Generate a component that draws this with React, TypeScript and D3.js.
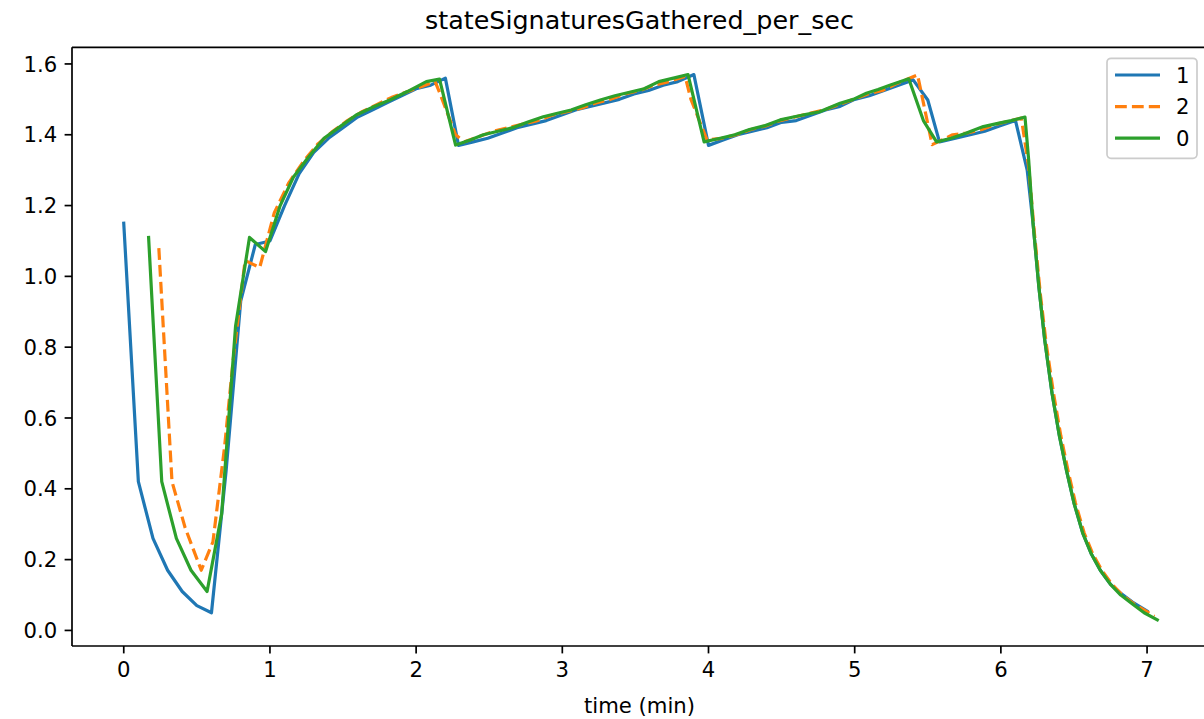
import React from "react";
import * as d3 from "d3";

const TITLE = "stateSignaturesGathered_per_sec";
const X_LABEL = "time (min)";
const X_TICKS = [0, 1, 2, 3, 4, 5, 6, 7];
const Y_TICKS = [0.0, 0.2, 0.4, 0.6, 0.8, 1.0, 1.2, 1.4, 1.6];
const SERIES_NAMES = ["1", "2", "0"];

const t1 = [0.00,0.10,0.20,0.30,0.40,0.50,0.60,0.70,0.80,0.90,1.00,1.10,1.20,1.30,1.40,1.50,1.60,1.70,1.80,1.90,2.00,2.10,2.20,2.29,2.39,2.49,2.59,2.69,2.79,2.89,2.99,3.09,3.19,3.29,3.39,3.49,3.59,3.69,3.79,3.90,4.00,4.10,4.20,4.30,4.40,4.50,4.60,4.70,4.80,4.90,5.00,5.10,5.20,5.30,5.40,5.50,5.58,5.69,5.79,5.89,5.99,6.10,6.18,6.22,6.26,6.30,6.35,6.40,6.45,6.50,6.56,6.62,6.68,6.75,6.82,6.90,7.00];
const v1 = [1.15,0.42,0.26,0.17,0.11,0.07,0.05,0.45,0.93,1.09,1.10,1.20,1.29,1.35,1.39,1.42,1.45,1.47,1.49,1.51,1.53,1.54,1.56,1.37,1.38,1.39,1.405,1.42,1.43,1.44,1.455,1.47,1.48,1.49,1.50,1.515,1.525,1.54,1.55,1.57,1.37,1.385,1.40,1.41,1.42,1.435,1.44,1.455,1.47,1.48,1.50,1.51,1.525,1.54,1.555,1.498,1.38,1.39,1.40,1.41,1.425,1.44,1.30,1.15,0.97,0.82,0.67,0.55,0.45,0.36,0.275,0.215,0.17,0.13,0.105,0.08,0.055];

const t2 = [0.24,0.33,0.42,0.53,0.61,0.69,0.75,0.83,0.93,1.03,1.13,1.23,1.33,1.43,1.53,1.63,1.73,1.83,1.93,2.03,2.13,2.16,2.27,2.33,2.43,2.53,2.63,2.73,2.83,2.93,3.03,3.13,3.23,3.33,3.43,3.53,3.63,3.73,3.84,3.88,3.99,4.09,4.19,4.29,4.39,4.49,4.59,4.69,4.79,4.89,4.99,5.09,5.19,5.29,5.43,5.53,5.67,5.77,5.87,5.97,6.07,6.14,6.19,6.23,6.27,6.31,6.36,6.41,6.46,6.51,6.57,6.63,6.69,6.76,6.83,6.91,6.99,7.05];
const v2 = [1.08,0.42,0.29,0.17,0.25,0.52,0.77,1.045,1.025,1.18,1.265,1.325,1.375,1.41,1.44,1.465,1.485,1.505,1.52,1.535,1.55,1.52,1.40,1.38,1.395,1.41,1.42,1.43,1.44,1.455,1.465,1.475,1.49,1.50,1.515,1.525,1.54,1.55,1.565,1.50,1.385,1.39,1.40,1.415,1.425,1.44,1.45,1.46,1.47,1.485,1.50,1.515,1.525,1.545,1.569,1.372,1.40,1.405,1.415,1.43,1.44,1.447,1.31,1.12,0.95,0.81,0.67,0.55,0.45,0.36,0.275,0.215,0.17,0.13,0.10,0.075,0.055,0.04];

const t0 = [0.17,0.26,0.36,0.46,0.57,0.67,0.765,0.86,0.97,1.07,1.16,1.26,1.37,1.48,1.59,1.71,1.82,1.94,2.07,2.16,2.27,2.37,2.46,2.56,2.66,2.76,2.87,2.96,3.06,3.16,3.26,3.36,3.46,3.56,3.66,3.76,3.86,3.97,4.08,4.18,4.28,4.38,4.49,4.58,4.67,4.76,4.90,4.99,5.08,5.16,5.24,5.37,5.47,5.56,5.66,5.76,5.88,5.98,6.07,6.165,6.19,6.22,6.26,6.30,6.35,6.40,6.45,6.50,6.56,6.62,6.68,6.75,6.82,6.90,6.98,7.07];
const v0 = [1.11,0.42,0.26,0.17,0.11,0.33,0.86,1.11,1.07,1.20,1.28,1.335,1.39,1.423,1.456,1.479,1.498,1.522,1.55,1.557,1.371,1.385,1.40,1.41,1.42,1.435,1.451,1.46,1.47,1.485,1.498,1.51,1.52,1.53,1.55,1.56,1.57,1.38,1.39,1.40,1.415,1.425,1.442,1.45,1.458,1.465,1.489,1.50,1.517,1.528,1.54,1.558,1.44,1.38,1.39,1.404,1.423,1.432,1.44,1.45,1.33,1.15,0.97,0.82,0.67,0.55,0.45,0.36,0.275,0.215,0.17,0.13,0.10,0.075,0.05,0.03];

const SERIES = [
  { name: SERIES_NAMES[0], t: t1, v: v1, color: "#1f77b4", dash: null as string | null },
  { name: SERIES_NAMES[1], t: t2, v: v2, color: "#ff7f0e", dash: "11.8,5.1" },
  { name: SERIES_NAMES[2], t: t0, v: v0, color: "#2ca02c", dash: null as string | null },
];

const W = 1204;
const H = 719;
const L = 72, R = 1207, T = 47.3, B = 646;
const FONT = "DejaVu Sans, sans-serif";
const FS = 21.2;
const TICK = 7.4;

export default function App() {
  const x = d3.scaleLinear().domain([-0.354, 7.41]).range([L, R]);
  const y = d3.scaleLinear().domain([-0.044, 1.647]).range([B, T]);
  const line = d3
    .line<[number, number]>()
    .x((d) => x(d[0]))
    .y((d) => y(d[1]));

  const legX = 1107, legY = 58.3, legW = 90, legH = 100;

  return (
    <svg
      width={W}
      height={H}
      style={{ position: "absolute", left: 0, top: 0, background: "#fff" }}
      fontFamily={FONT}
    >
      <rect x={0} y={0} width={W} height={H} fill="#fff" />
      <defs>
        <clipPath id="plot">
          <rect x={L} y={T} width={R - L} height={B - T} />
        </clipPath>
      </defs>
      <g clipPath="url(#plot)">
        {SERIES.map((s) => (
          <path
            key={s.name}
            d={line(s.t.map((tt, i) => [tt, s.v[i]] as [number, number])) || ""}
            fill="none"
            stroke={s.color}
            strokeWidth={3.2}
            strokeDasharray={s.dash || undefined}
            strokeLinejoin="round"
            strokeLinecap={s.dash ? "butt" : "square"}
          />
        ))}
      </g>
      <g stroke="#000" strokeWidth={1.7} fill="none">
        <line x1={L} y1={T} x2={L} y2={B} />
        <line x1={L} y1={B} x2={R} y2={B} />
        <line x1={L} y1={T} x2={R} y2={T} />
        <line x1={R} y1={T} x2={R} y2={B} />
      </g>
      {X_TICKS.map((v) => (
        <g key={"x" + v}>
          <line x1={x(v)} x2={x(v)} y1={B} y2={B + TICK} stroke="#000" strokeWidth={1.7} />
          <text x={x(v)} y={B + TICK + 7.4 + 16} textAnchor="middle" fontSize={FS} fill="#000">
            {v}
          </text>
        </g>
      ))}
      {Y_TICKS.map((v) => (
        <g key={"y" + v}>
          <line x1={L - TICK} x2={L} y1={y(v)} y2={y(v)} stroke="#000" strokeWidth={1.7} />
          <text
            x={L - TICK - 7.4}
            y={y(v)}
            dy="0.36em"
            textAnchor="end"
            fontSize={FS}
            fill="#000"
          >
            {v.toFixed(1)}
          </text>
        </g>
      ))}
      <text x={(L + R) / 2} y={713} textAnchor="middle" fontSize={FS} fill="#000">
        {X_LABEL}
      </text>
      <text x={(L + R) / 2} y={29} textAnchor="middle" fontSize={25.4} fill="#000">
        {TITLE}
      </text>
      <rect
        x={legX}
        y={legY}
        width={legW}
        height={legH}
        rx={4}
        fill="#fff"
        fillOpacity={0.8}
        stroke="#cccccc"
        strokeWidth={1.7}
      />
      {SERIES.map((s, i) => {
        const cy = 75 + i * 31.6;
        return (
          <g key={"leg" + s.name}>
            <line
              x1={1115}
              x2={1160}
              y1={cy}
              y2={cy}
              stroke={s.color}
              strokeWidth={3.2}
              strokeDasharray={s.dash || undefined}
            />
            <text x={1176} y={cy} dy="0.36em" fontSize={FS} fill="#000">
              {s.name}
            </text>
          </g>
        );
      })}
    </svg>
  );
}
